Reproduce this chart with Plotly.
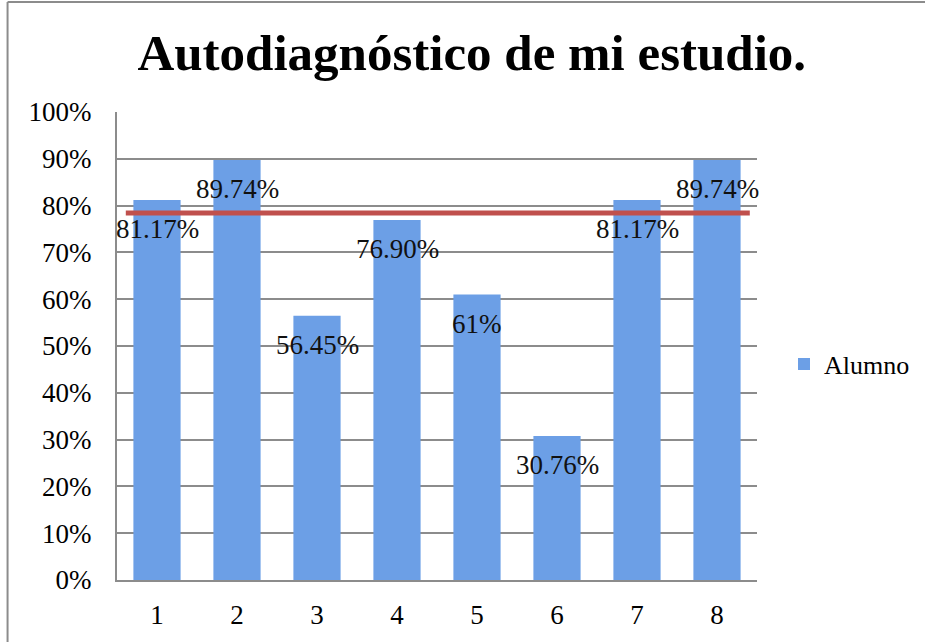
import plotly.graph_objects as go

categories = ["1", "2", "3", "4", "5", "6", "7", "8"]
alumno = [0.8117, 0.8974, 0.5645, 0.7690, 0.61, 0.3076, 0.8117, 0.8974]
labels = ["81.17%", "89.74%", "56.45%", "76.90%", "61%", "30.76%", "81.17%", "89.74%"]
reference_level = 0.784
y_ticks = [0, 0.1, 0.2, 0.3, 0.4, 0.5, 0.6, 0.7, 0.8, 0.9, 1.0]
y_tick_text = ["0%", "10%", "20%", "30%", "40%", "50%", "60%", "70%", "80%", "90%", "100%"]

FONT = "Liberation Serif"
x_pos = list(range(1, len(categories) + 1))

fig = go.Figure()
fig.add_trace(go.Bar(
    x=x_pos, y=alumno, name="Alumno",
    marker=dict(color="#6c9fe6", line=dict(width=0)),
    showlegend=True,
))

for xi, yi, t in zip(x_pos, alumno, labels):
    fig.add_annotation(x=xi, y=yi, text=t, showarrow=False, xref="x", yref="y",
                       yanchor="middle", yshift=-29,
                       font=dict(family=FONT, size=27, color="#111111"))

fig.add_shape(type="line", xref="x", yref="y", x0=0.61, x1=8.41,
              y0=reference_level, y1=reference_level,
              line=dict(color="#c0504d", width=5))

# outer chart border (left and top visible)
fig.add_shape(type="line", xref="paper", yref="paper", x0=-0.171, x1=-0.171,
              y0=-0.2, y1=1.235, line=dict(color="#8c8c8c", width=2))
fig.add_shape(type="line", xref="paper", yref="paper", x0=-0.171, x1=1.3,
              y0=1.235, y1=1.235, line=dict(color="#8c8c8c", width=2))

fig.update_layout(
    width=925, height=642,
    margin=dict(l=117, r=168, t=112, b=62, autoexpand=False),
    paper_bgcolor="white", plot_bgcolor="white",
    bargap=0.41,
    title=dict(text="<b>Autodiagnóstico de mi estudio.</b>", x=0.51, xanchor="center",
               y=1 - 52 / 642, yanchor="middle",
               font=dict(family=FONT, size=51, color="#000000")),
    font=dict(family=FONT, size=27, color="#000000"),
    legend=dict(xref="container", yref="container", x=784 / 925, y=1 - 364 / 642,
                xanchor="left", yanchor="middle",
                font=dict(family=FONT, size=26), itemwidth=30,
                bgcolor="rgba(0,0,0,0)"),
    xaxis=dict(tickmode="array", tickvals=x_pos, ticktext=categories,
               range=[0.5, 8.5], showgrid=False, showline=True,
               linecolor="#8c8c8c", linewidth=2, ticks="",
               tickfont=dict(family=FONT, size=27), ticklabelstandoff=10),
    yaxis=dict(range=[0, 1.0], tickmode="array", tickvals=y_ticks, ticktext=y_tick_text,
               showgrid=True, gridcolor="#8c8c8c", gridwidth=2,
               showline=True, linecolor="#8c8c8c", linewidth=2, ticks="",
               tickfont=dict(family=FONT, size=27), ticklabelstandoff=18, zeroline=False),
)

fig.write_html("out.html", config={"displayModeBar": False},
               post_script="document.body.style.margin='0';")
